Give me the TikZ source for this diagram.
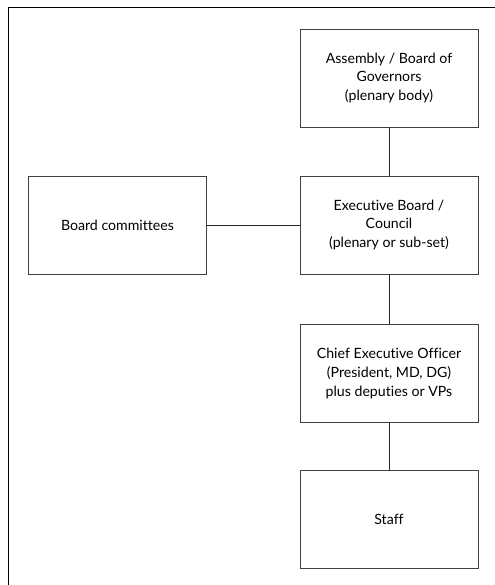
\documentclass[tikz,border=0pt]{standalone}
\usepackage{fontspec}
\setmainfont{Lato}[Ligatures=NoCommon]
\tikzset{orgbox/.style={
        draw=black!75,
        line width=.9pt,
        minimum width=178bp,
        minimum height=98bp,
        align=center,
        font=\fontsize{14.2}{19}\selectfont
    },
    link/.style={draw=black!85, line width=.8pt}
}

\begin{document}
\begin{tikzpicture}[x=1bp,y=-1bp]
        \useasboundingbox (0,0) rectangle (495,585);
        % frame
        \draw[line width=.9pt] (8,585) -- (8,7) -- (495,7);
        % boxes
        \node[orgbox] (assembly) at (389,78) {Assembly / Board of\\Governors\\(plenary body)};
        \node[orgbox] (exec) at (389,225) {Executive Board /\\Council\\(plenary or sub-set)};
        \node[orgbox] (committees) at (117.5,225) {Board committees};
        \node[orgbox] (ceo) at (389,373.5) {Chief Executive Officer\\(President, MD, DG)\\plus deputies or VPs};
        \node[orgbox] (staff) at (389,519.5) {Staff};
        % links
        \draw[link] (assembly) -- (exec);
        \draw[link] (committees) -- (exec);
        \draw[link] (exec) -- (ceo);
        \draw[link] (ceo) -- (staff);
    \end{tikzpicture}
\end{document}
